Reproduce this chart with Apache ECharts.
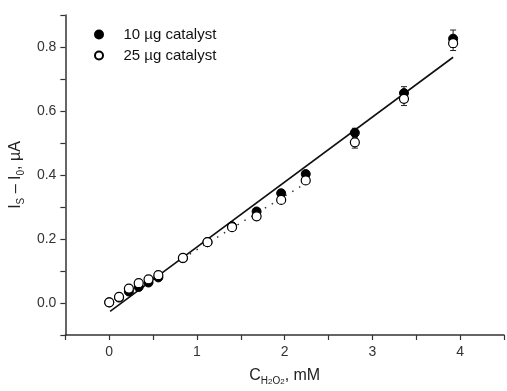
<!DOCTYPE html>
<html><head><meta charset="utf-8">
<script src="https://cdn.jsdelivr.net/npm/echarts@6/dist/echarts.min.js"></script>
<style>html,body{margin:0;padding:0;background:#fff}#c{width:507px;height:391px}</style>
</head><body><div id="c"></div>
<script>
const conc = [0, 0.112, 0.224, 0.336, 0.448, 0.56, 0.84, 1.12, 1.4, 1.68, 1.96, 2.24, 2.8, 3.36, 3.92];
const cat10 = [0.002, 0.017, 0.036, 0.05, 0.064, 0.08, 0.14, 0.19, 0.24, 0.286, 0.343, 0.403, 0.532, 0.656, 0.826];
const cat25 = [0.002, 0.019, 0.045, 0.062, 0.074, 0.087, 0.141, 0.19, 0.237, 0.271, 0.322, 0.383, 0.502, 0.638, 0.812];
const err10 = [0.003, 0.003, 0.004, 0.004, 0.004, 0.004, 0.004, 0.005, 0.006, 0.008, 0.008, 0.008, 0.014, 0.02, 0.027];
const err25 = [0.003, 0.003, 0.004, 0.004, 0.004, 0.004, 0.004, 0.005, 0.006, 0.008, 0.008, 0.008, 0.018, 0.021, 0.023];
const fit10X = [0.01, 3.92];
const fit10Y = [-0.026, 0.768];
const fit25X = [0.84, 2.24];
const fit25Y = [0.14, 0.374];
const seriesNames = ['10 µg catalyst', '25 µg catalyst'];

const font = 'Liberation Sans, Arial, sans-serif';
const pts = (ys) => conc.map((x, i) => [x, ys[i]]);
const errs = (ys, es) => conc.map((x, i) => [x, ys[i] - es[i], ys[i] + es[i]]);
const fitLine = (xs, ys) => xs.map((x, i) => [x, ys[i]]);

function errRender(params, api) {
  const x = api.value(0), lo = api.value(1), hi = api.value(2);
  const a = api.coord([x, hi]), b = api.coord([x, lo]);
  const w = 3;
  const st = { stroke: '#222', lineWidth: 1 };
  return { type: 'group', children: [
    { type: 'line', shape: { x1: a[0], y1: a[1], x2: b[0], y2: b[1] }, style: st },
    { type: 'line', shape: { x1: a[0] - w, y1: a[1], x2: a[0] + w, y2: a[1] }, style: st },
    { type: 'line', shape: { x1: b[0] - w, y1: b[1], x2: b[0] + w, y2: b[1] }, style: st }
  ]};
}

const chart = echarts.init(document.getElementById('c'), null, { renderer: 'canvas' });
chart.setOption({
  animation: false,
  backgroundColor: '#fff',
  textStyle: { fontFamily: font },
  grid: { left: 62, right: 0, top: 15, bottom: 49, containLabel: false },
  legend: {
    orient: 'vertical', left: 89, top: 22, itemGap: 6,
    itemWidth: 39, itemHeight: 8,
    textStyle: { fontSize: 15, color: '#111', fontFamily: font },
    data: [
      { name: seriesNames[0], icon: 'circle' },
      { name: seriesNames[1], icon: 'circle' }
    ]
  },
  xAxis: {
    type: 'value', min: -0.5, max: 4.5, interval: 0.5,
    axisLine: { show: true, onZero: false, lineStyle: { color: '#333', width: 1.5 } },
    axisTick: { show: true, length: 5, lineStyle: { color: '#333', width: 1.2 } },
    axisLabel: { fontSize: 14, color: '#333', margin: 10,
      formatter: v => (Math.abs(v - Math.round(v)) < 1e-6 ? String(Math.round(v)) : '') },
    splitLine: { show: false },
    name: 'C{s|H}{t|2}{s|O}{t|2}, mM',
    nameLocation: 'middle', nameGap: 31,
    nameTextStyle: { fontSize: 16, color: '#222', fontFamily: font,
      rich: { s: { fontSize: 10, color: '#222', padding: [10, 0, 0, 0] },
              t: { fontSize: 8, color: '#222', padding: [12, 0, 0, 0] } } }
  },
  yAxis: {
    type: 'value', min: -0.1, max: 0.9, interval: 0.1,
    axisLine: { show: true, onZero: false, lineStyle: { color: '#333', width: 1.5 } },
    axisTick: { show: true, length: 5, lineStyle: { color: '#333', width: 1.2 } },
    axisLabel: { fontSize: 14, color: '#333', margin: 9,
      formatter: v => { const k = Math.round(v * 10); return (k % 2 === 0 && k >= 0) ? (k / 10).toFixed(1) : ''; } },
    splitLine: { show: false },
    name: 'I{s|S} – I{s|0}, µA',
    nameLocation: 'middle', nameGap: 32, nameRotate: 90,
    nameTextStyle: { fontSize: 16, color: '#222', fontFamily: font,
      rich: { s: { fontSize: 10, color: '#222', padding: [10, 0, 0, 0] } } }
  },
  series: [
    { type: 'line', data: fitLine(fit10X, fit10Y), symbol: 'none', silent: true,
      lineStyle: { color: '#111', width: 1.6 }, z: 1 },
    { type: 'line', data: fitLine(fit25X, fit25Y), symbol: 'none', silent: true,
      lineStyle: { color: '#333', width: 1.5, type: [1.5, 6.5] }, z: 1 },
    { type: 'custom', renderItem: errRender, data: errs(cat10, err10), encode: { x: 0, y: [1, 2] }, z: 2, silent: true },
    { type: 'custom', renderItem: errRender, data: errs(cat25, err25), encode: { x: 0, y: [1, 2] }, z: 2, silent: true },
    { name: seriesNames[0], type: 'scatter', data: pts(cat10), symbol: 'circle', symbolSize: 9,
      itemStyle: { color: '#000', borderColor: '#000', borderWidth: 1, opacity: 1 }, z: 3 },
    { name: seriesNames[1], type: 'scatter', data: pts(cat25), symbol: 'circle', symbolSize: 9,
      itemStyle: { color: '#fff', borderColor: '#000', borderWidth: 1.2, opacity: 1 }, z: 4 }
  ]
});
</script></body></html>
